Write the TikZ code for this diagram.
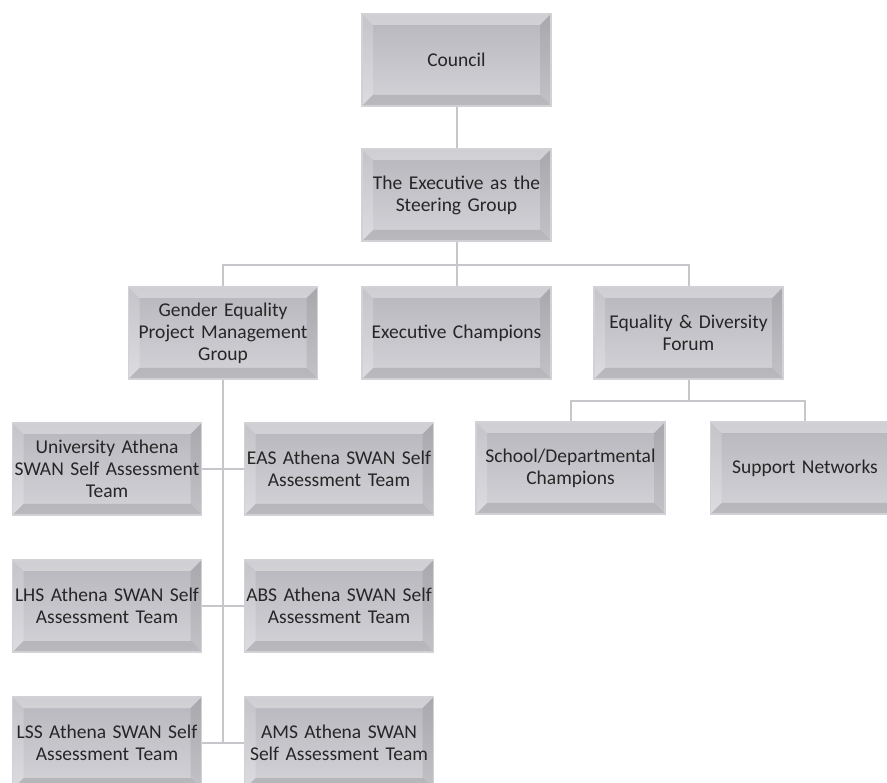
\documentclass[tikz,border=0pt]{standalone}
\usepackage{fontspec}
\setmainfont{Carlito}
\usetikzlibrary{positioning}
\definecolor{boxtop}{HTML}{B7B6BC}
\definecolor{boxbot}{HTML}{D4D3D8}
\definecolor{boxline}{HTML}{D2D2D6}
\definecolor{linkgray}{HTML}{C6C6CB}

\begin{document}
\begin{tikzpicture}[x=1pt,y=-1pt,
    box/.style={draw=boxline, line width=1.5pt, top color=boxtop, bottom color=boxbot,
      minimum width=189pt, minimum height=92pt, text width=189pt, inner sep=0pt,
      align=center, font=\fontsize{19.5}{22}\selectfont, text=black!85,
      path picture={
        \fill[white,opacity=.35] (path picture bounding box.north west) -- (path picture bounding box.north east)
          -- ([xshift=-11pt,yshift=-11pt]path picture bounding box.north east)
          -- ([xshift=11pt,yshift=-11pt]path picture bounding box.north west) -- cycle;
        \fill[white,opacity=.2] (path picture bounding box.north west) -- (path picture bounding box.south west)
          -- ([xshift=11pt,yshift=11pt]path picture bounding box.south west)
          -- ([xshift=11pt,yshift=-11pt]path picture bounding box.north west) -- cycle;
        \fill[black,opacity=.08] (path picture bounding box.north east) -- (path picture bounding box.south east)
          -- ([xshift=-11pt,yshift=11pt]path picture bounding box.south east)
          -- ([xshift=-11pt,yshift=-11pt]path picture bounding box.north east) -- cycle;
        \fill[black,opacity=.12] (path picture bounding box.south west) -- (path picture bounding box.south east)
          -- ([xshift=-11pt,yshift=11pt]path picture bounding box.south east)
          -- ([xshift=11pt,yshift=11pt]path picture bounding box.south west) -- cycle;
      }},
    link/.style={draw=linkgray, line width=2pt}]
  \path[use as bounding box, clip] (0,0) rectangle (887,783);

  \node[box] (council) at (456.5,60) {Council};
  \node[box] (exec) at (456.5,195) {The Executive as the\\Steering Group};

  \node[box] (gepmg) at (223,333) {Gender Equality\\Project Management\\Group};
  \node[box] (champ) at (456.5,333) {Executive Champions};
  \node[box] (forum) at (688.5,333) {Equality \& Diversity\\Forum};

  \node[box] (school) at (570.5,468) {School/Departmental\\Champions};
  \node[box] (support) at (805,468) {Support Networks};

  \node[box] (univ) at (107,469) {University Athena\\SWAN Self Assessment\\Team};
  \node[box] (eas) at (339,469) {EAS Athena SWAN Self\\Assessment Team};
  \node[box] (lhs) at (107,606) {LHS Athena SWAN Self\\Assessment Team};
  \node[box] (abs) at (339,606) {ABS Athena SWAN Self\\Assessment Team};
  \node[box] (lss) at (107,743) {LSS Athena SWAN Self\\Assessment Team};
  \node[box] (ams) at (339,743) {AMS Athena SWAN\\Self Assessment Team};

  \coordinate (bus1) at (456.5,265);
  \coordinate (bus2) at (688.5,401);
  \coordinate (spine) at (223,743);

  \draw[link] (council) -- (exec);
  \draw[link] (exec) -- (bus1);
  \draw[link] (gepmg.north) |- (bus1) -| (forum.north);
  \draw[link] (champ.north) -- (bus1);
  \draw[link] (forum) -- (bus2);
  \draw[link] (school.north) |- (bus2) -| (support.north);
  \draw[link] (gepmg) -- (spine);
  \draw[link] (univ) -- (eas);
  \draw[link] (lhs) -- (abs);
  \draw[link] (lss) -- (ams);
\end{tikzpicture}
\end{document}
